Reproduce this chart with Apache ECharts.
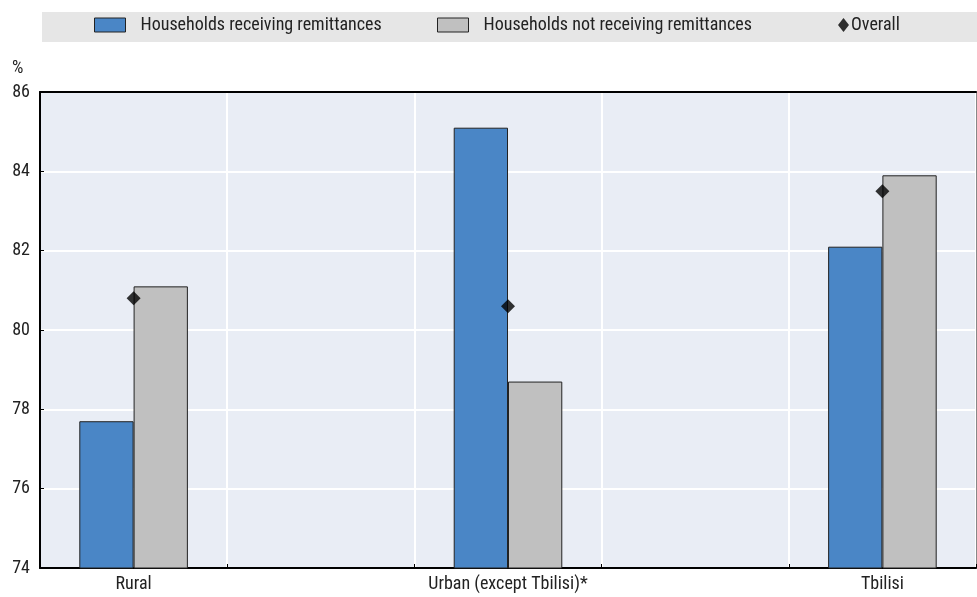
<!DOCTYPE html>
<html><head><meta charset="utf-8">
<script src="https://cdn.jsdelivr.net/npm/echarts@6/dist/echarts.min.js"></script>
<style>html,body{margin:0;padding:0;background:#fff}#c{width:977px;height:597px}</style>
</head><body><div id="c"></div>
<script>
const categories = ["Rural", "", "Urban (except Tbilisi)*", "", "Tbilisi"];
const receiving = [77.7, null, 85.1, null, 82.1];
const notReceiving = [81.1, null, 78.7, null, 83.9];
const overall = [80.8, null, 80.6, null, 83.5];
const yTicks = {min: 74, max: 86, interval: 2};
const seriesNames = ["Households receiving remittances", "Households not receiving remittances", "Overall"];

const FONT = '"Roboto Condensed", "Liberation Sans", Arial, sans-serif';
const chart = echarts.init(document.getElementById('c'), null, {renderer: 'canvas'});
const txt = {fontFamily: FONT, fontSize: 18, color: '#222'};
chart.setOption({
  animation: false,
  textStyle: {fontFamily: FONT},
  graphic: [
    {type: 'rect', left: 42, top: 12, shape: {width: 935, height: 30}, style: {fill: '#e6e6e6'}, z: -1},
    {type: 'text', left: 12, top: 59, style: {text: '%', fontFamily: FONT, fontSize: 18, fill: '#222'}}
  ],
  legend: [
    {left: 94, top: 16, padding: 0, itemWidth: 31, itemHeight: 14, itemGap: 0,
     textStyle: Object.assign({}, txt, {padding: [0, 0, 0, 10]}),
     data: [{name: seriesNames[0], icon: 'rect', itemStyle: {borderColor: '#222', borderWidth: 1}}]},
    {left: 437, top: 16, padding: 0, itemWidth: 31, itemHeight: 14, itemGap: 0,
     textStyle: Object.assign({}, txt, {padding: [0, 0, 0, 10]}),
     data: [{name: seriesNames[1], icon: 'rect', itemStyle: {borderColor: '#222', borderWidth: 1}}]},
    {left: 838, top: 16, padding: 0, itemWidth: 11, itemHeight: 14, itemGap: 0,
     textStyle: Object.assign({}, txt, {padding: [0, 0, 0, -3]}),
     data: [{name: seriesNames[2], icon: 'diamond'}]}
  ],
  grid: {left: 40, right: 1, top: 92, bottom: 29, show: true, backgroundColor: '#e9edf5', borderWidth: 0},
  xAxis: [{
    type: 'category', data: categories, boundaryGap: true,
    axisLine: {lineStyle: {color: '#000', width: 2}},
    axisTick: {show: true, inside: true, length: 4, lineStyle: {color: '#000'}},
    axisLabel: Object.assign({}, txt, {margin: 7, interval: 0}),
    splitLine: {show: true, lineStyle: {color: '#fff', width: 2}}
  }, {
    type: 'category', data: categories, position: 'top',
    axisLine: {lineStyle: {color: '#000', width: 2}},
    axisTick: {show: false}, axisLabel: {show: false}, splitLine: {show: false}
  }],
  yAxis: [{
    type: 'value', min: yTicks.min, max: yTicks.max, interval: yTicks.interval,
    axisLine: {show: true, lineStyle: {color: '#000', width: 2}},
    axisTick: {show: true, inside: true, length: 4, lineStyle: {color: '#000'}},
    axisLabel: Object.assign({}, txt, {margin: 10}),
    splitLine: {show: true, lineStyle: {color: '#fff', width: 2}}
  }, {
    type: 'value', min: yTicks.min, max: yTicks.max, interval: yTicks.interval, position: 'right',
    axisLine: {show: true, lineStyle: {color: '#888', width: 1}},
    axisTick: {show: false}, axisLabel: {show: false}, splitLine: {show: false}
  }],
  series: [
    {name: seriesNames[0], type: 'bar', data: receiving, barGap: '0%', barCategoryGap: '42%',
     itemStyle: {color: '#4a86c6', borderColor: '#222', borderWidth: 1}},
    {name: seriesNames[1], type: 'bar', data: notReceiving, barGap: '0%', barCategoryGap: '42%',
     itemStyle: {color: '#c0c0c0', borderColor: '#222', borderWidth: 1}},
    {name: seriesNames[2], type: 'scatter', data: overall, symbol: 'diamond', symbolSize: 14, z: 5,
     itemStyle: {color: '#000'}}
  ]
});
</script></body></html>
